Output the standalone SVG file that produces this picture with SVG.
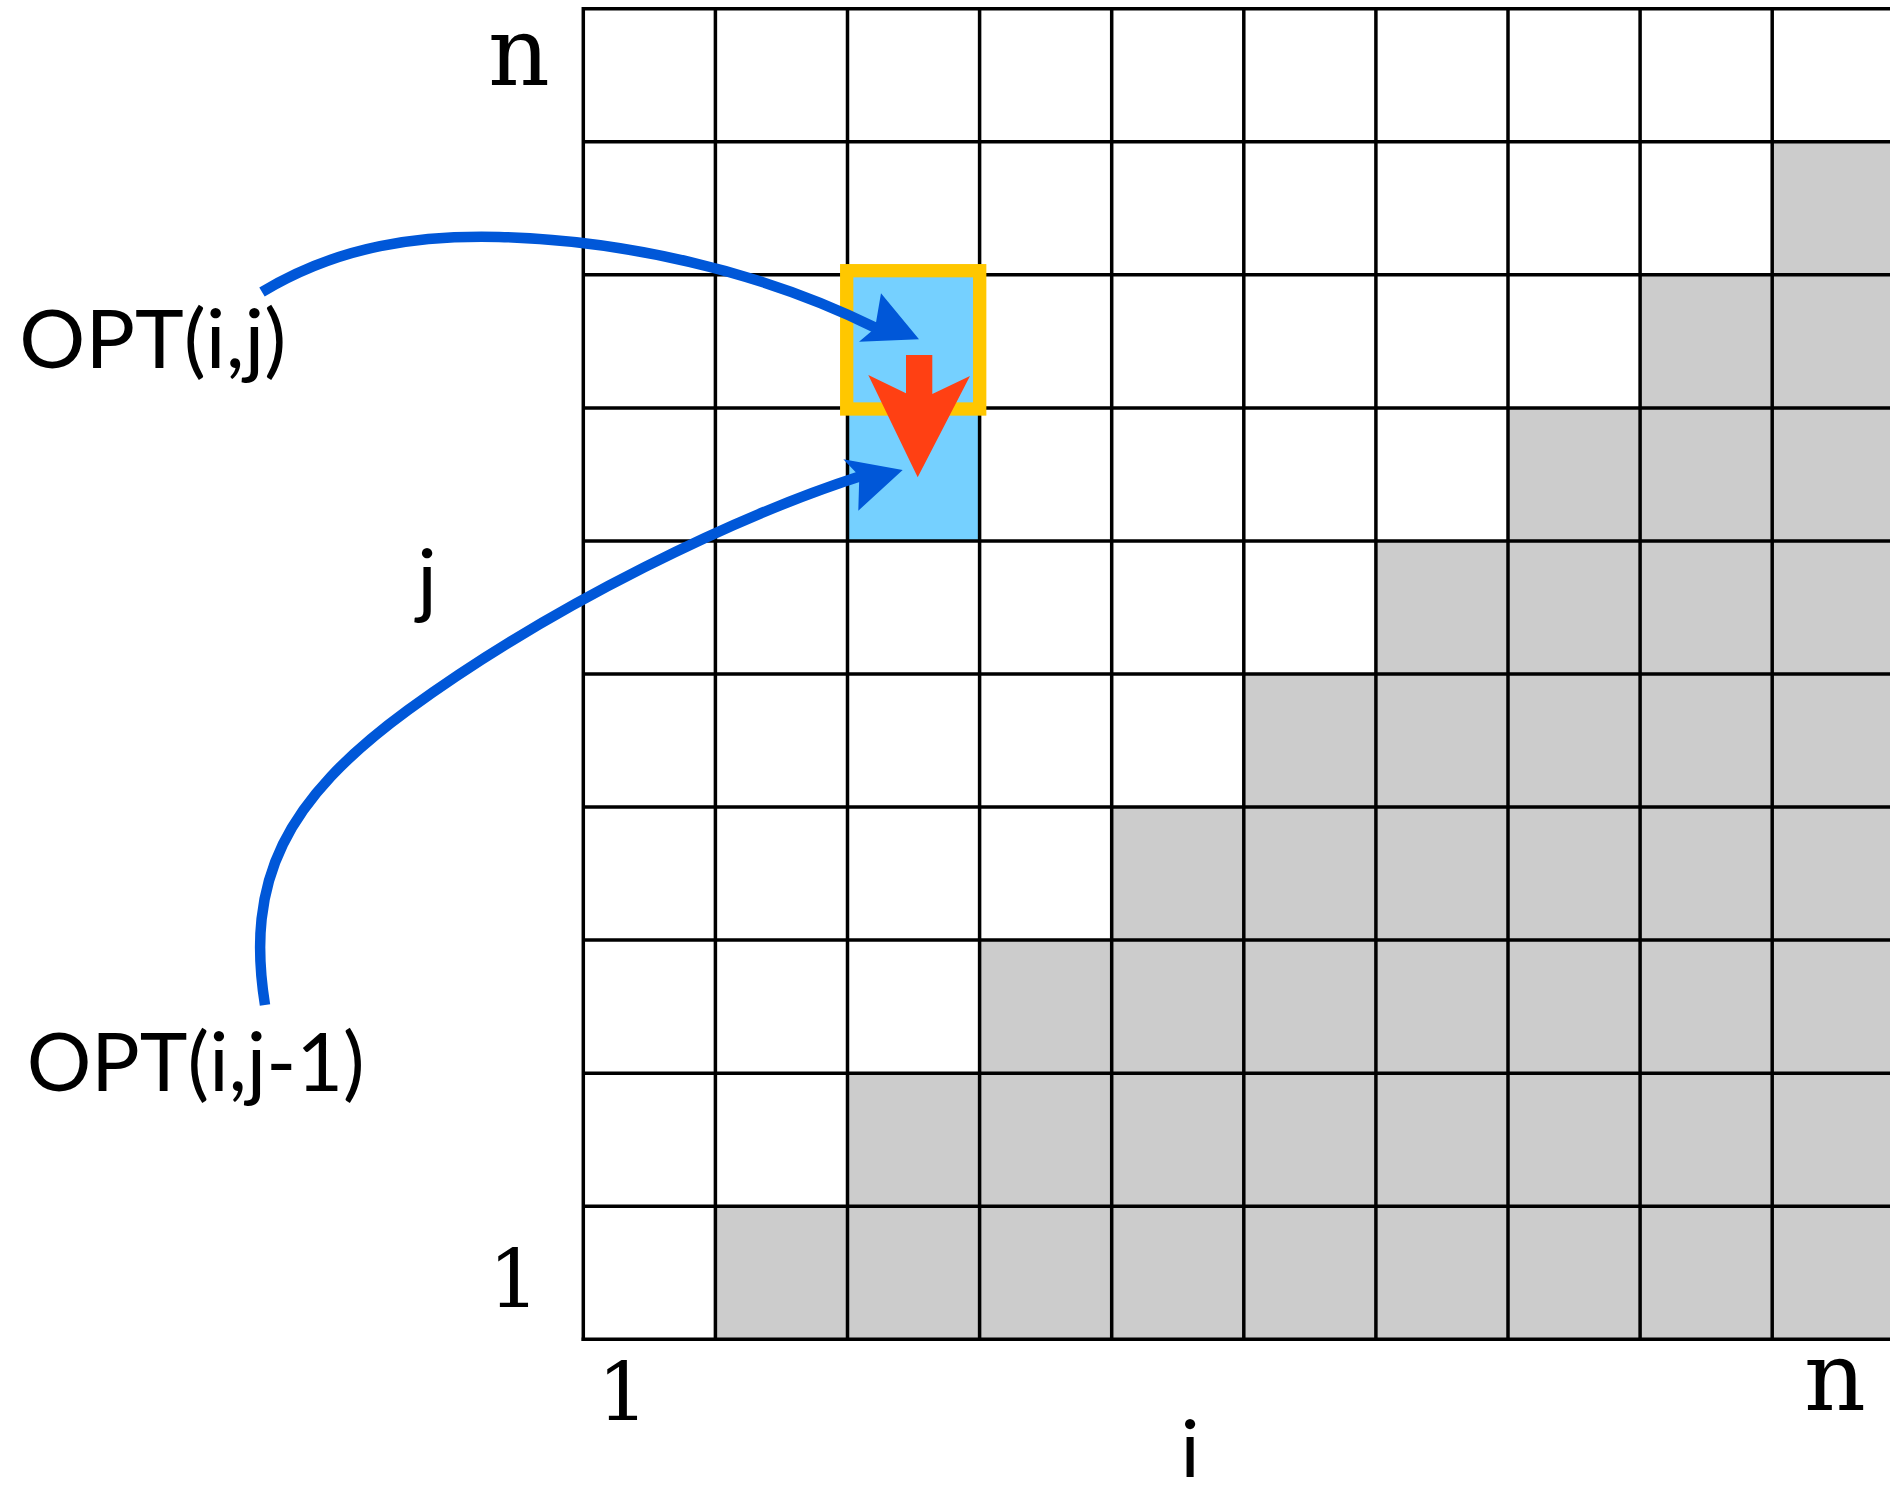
<svg xmlns="http://www.w3.org/2000/svg" width="1890" height="1487" viewBox="0 0 1890 1487">
<style>
.grid line{stroke:#000;stroke-width:3.5}
.lbl{font-family:"Lato","Open Sans","Liberation Sans",sans-serif;fill:#000}
.mono{font-family:"DejaVu Serif","Liberation Serif",serif;fill:#000;text-anchor:middle}
.curve{fill:none;stroke:#0057D8;stroke-width:10.5;stroke-linecap:butt}
.head{fill:#0057D8}
</style>
<rect width="1890" height="1487" fill="#fff"/>
<g id="shade">
<polygon fill="#CCCCCC" points="1890,141.8 1890,1339.3 715.4,1339.3 715.4,1206.2 847.5,1206.2 847.5,1073.2 979.6,1073.2 979.6,940.1 1111.7,940.1 1111.7,807.1 1243.8,807.1 1243.8,674 1375.9,674 1375.9,540.9 1508,540.9 1508,407.9 1640.1,407.9 1640.1,274.8 1772.2,274.8 1772.2,141.8"/>
<rect id="cell-blue" x="847.5" y="274.8" width="132.1" height="266.1" fill="#75D0FF"/>
</g>
<g id="grid" class="grid">
<line x1="583.3" y1="8.7" x2="1890" y2="8.7"/>
<line x1="583.3" y1="141.8" x2="1890" y2="141.8"/>
<line x1="583.3" y1="274.8" x2="1890" y2="274.8"/>
<line x1="583.3" y1="407.9" x2="1890" y2="407.9"/>
<line x1="583.3" y1="540.9" x2="1890" y2="540.9"/>
<line x1="583.3" y1="674" x2="1890" y2="674"/>
<line x1="583.3" y1="807.1" x2="1890" y2="807.1"/>
<line x1="583.3" y1="940.1" x2="1890" y2="940.1"/>
<line x1="583.3" y1="1073.2" x2="1890" y2="1073.2"/>
<line x1="583.3" y1="1206.2" x2="1890" y2="1206.2"/>
<line x1="581.6" y1="1339.3" x2="1890" y2="1339.3"/>
<line x1="583.3" y1="7" x2="583.3" y2="1341"/>
<line x1="715.4" y1="8.7" x2="715.4" y2="1339.3"/>
<line x1="847.5" y1="8.7" x2="847.5" y2="1339.3"/>
<line x1="979.6" y1="8.7" x2="979.6" y2="1339.3"/>
<line x1="1111.7" y1="8.7" x2="1111.7" y2="1339.3"/>
<line x1="1243.8" y1="8.7" x2="1243.8" y2="1339.3"/>
<line x1="1375.9" y1="8.7" x2="1375.9" y2="1339.3"/>
<line x1="1508" y1="8.7" x2="1508" y2="1339.3"/>
<line x1="1640.1" y1="8.7" x2="1640.1" y2="1339.3"/>
<line x1="1772.2" y1="8.7" x2="1772.2" y2="1339.3"/>
</g>
<g id="highlight">
<rect x="846.7" y="270.7" width="133" height="138.3" fill="none" stroke="#FFC700" stroke-width="13.3"/>
<polygon fill="#FF4013" points="906,355 932.3,355 932.3,394 970,376 917.7,477.3 868.3,375 906,393.3"/>
</g>
<g id="connectors">
<path class="curve" d="M262,292 C340,245 420,235 499,237 C620,240 760,270 876,328"/>
<polygon class="head" points="919,339.3 881,293.3 875,328.3 859,341.7"/>
<path class="curve" d="M265,1005 C245,880 285,800 408,710 C556,602 740,515 861,476"/>
<polygon class="head" points="902.7,470 843.3,459.3 859.3,476 858.3,510.7"/>
</g>
<g id="labels">
<text class="lbl" x="19.3" y="368.3" font-size="82" textLength="267" lengthAdjust="spacingAndGlyphs">OPT(i,j)</text>
<text class="lbl" x="26.7" y="1090.7" font-size="82" textLength="338" lengthAdjust="spacingAndGlyphs">OPT(i,j-1)</text>
<text class="lbl" x="427" y="608" font-size="82" text-anchor="middle">j</text>
<text class="lbl" x="1190" y="1477" font-size="80" text-anchor="middle">i</text>
<text class="mono" x="519" y="85" font-size="96">n</text>
<text class="mono" x="1835" y="1410" font-size="96">n</text>
<text class="mono" x="514" y="1306.7" font-size="80">1</text>
<text class="mono" x="623" y="1420" font-size="80">1</text>
</g>
</svg>
